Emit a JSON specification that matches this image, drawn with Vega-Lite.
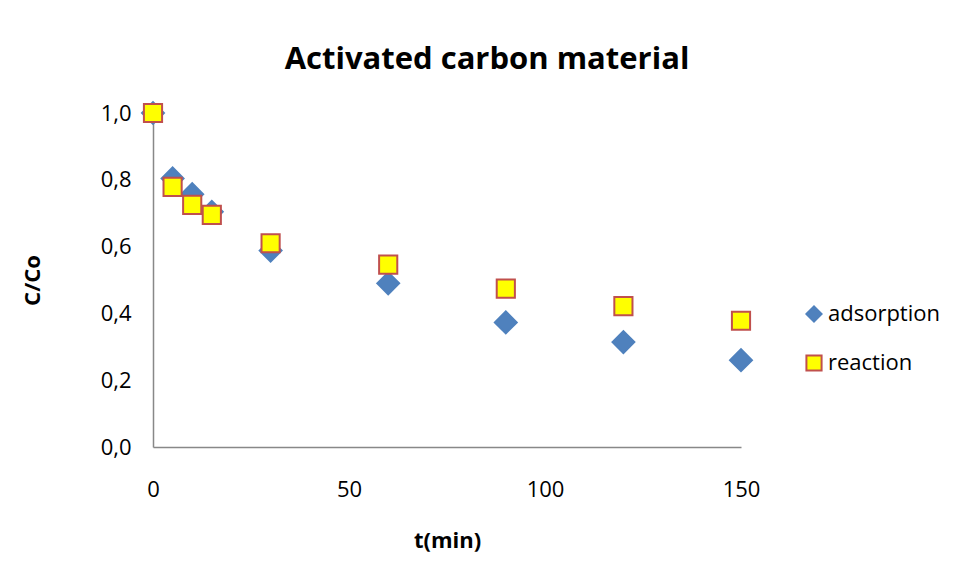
{
  "$schema": "https://vega.github.io/schema/vega-lite/v6.json",
  "width": 588,
  "height": 334,
  "autosize": "none",
  "padding": {"left": 153, "top": 113, "right": 217, "bottom": 136},
  "background": "white",
  "title": {
    "text": "Activated carbon material",
    "font": "Open Sans",
    "fontSize": 31,
    "fontWeight": "bold",
    "color": "#000000",
    "anchor": "middle",
    "offset": 22,
    "dx": 40
  },
  "data": {
    "values": [
      {"t": 0, "c": 1.0, "series": "adsorption"},
      {"t": 5, "c": 0.804, "series": "adsorption"},
      {"t": 10, "c": 0.757, "series": "adsorption"},
      {"t": 15, "c": 0.704, "series": "adsorption"},
      {"t": 30, "c": 0.588, "series": "adsorption"},
      {"t": 60, "c": 0.49, "series": "adsorption"},
      {"t": 90, "c": 0.373, "series": "adsorption"},
      {"t": 120, "c": 0.314, "series": "adsorption"},
      {"t": 150, "c": 0.26, "series": "adsorption"},
      {"t": 0, "c": 1.0, "series": "reaction"},
      {"t": 5, "c": 0.779, "series": "reaction"},
      {"t": 10, "c": 0.725, "series": "reaction"},
      {"t": 15, "c": 0.695, "series": "reaction"},
      {"t": 30, "c": 0.61, "series": "reaction"},
      {"t": 60, "c": 0.546, "series": "reaction"},
      {"t": 90, "c": 0.474, "series": "reaction"},
      {"t": 120, "c": 0.422, "series": "reaction"},
      {"t": 150, "c": 0.378, "series": "reaction"}
    ]
  },
  "mark": {"type": "point", "filled": true, "opacity": 1, "strokeWidth": 2, "clip": false},
  "encoding": {
    "x": {
      "field": "t",
      "type": "quantitative",
      "scale": {"domain": [0, 150], "nice": false, "zero": false},
      "axis": {
        "title": "t(min)",
        "values": [0, 50, 100, 150],
        "grid": false,
        "ticks": false,
        "labelFlush": false,
        "labelPadding": 32,
        "titlePadding": 30
      }
    },
    "y": {
      "field": "c",
      "type": "quantitative",
      "scale": {"domain": [0, 1], "nice": false},
      "axis": {
        "title": "C/Co",
        "values": [0, 0.2, 0.4, 0.6, 0.8, 1.0],
        "labelExpr": "replace(format(datum.value, '.1f'), '.', ',')",
        "labelFlush": false,
        "grid": false,
        "ticks": false,
        "labelPadding": 22,
        "titlePadding": 56
      }
    },
    "shape": {
      "field": "series",
      "type": "nominal",
      "scale": {"domain": ["adsorption", "reaction"], "range": ["diamond", "square"]},
      "legend": {
        "title": null,
        "orient": "none",
        "legendX": 650,
        "legendY": 190,
        "symbolSize": 230,
        "symbolStrokeWidth": 2,
        "labelFontSize": 22,
        "labelFont": "Open Sans",
        "labelColor": "#000000",
        "labelOffset": 3,
        "rowPadding": 25,
        "padding": 0
      }
    },
    "fill": {
      "field": "series",
      "type": "nominal",
      "scale": {"domain": ["adsorption", "reaction"], "range": ["#4F81BD", "#FFFF00"]}
    },
    "stroke": {
      "field": "series",
      "type": "nominal",
      "scale": {"domain": ["adsorption", "reaction"], "range": ["#4F81BD", "#C0504D"]}
    },
    "size": {
      "condition": {"test": "datum.series === 'adsorption'", "value": 480},
      "value": 330
    }
  },
  "config": {
    "view": {"stroke": null},
    "axis": {
      "domainColor": "#888888",
      "domainWidth": 1.5,
      "labelFont": "Open Sans",
      "labelFontSize": 22,
      "labelColor": "#000000",
      "titleFont": "Open Sans",
      "titleFontSize": 22,
      "titleFontWeight": "bold",
      "titleColor": "#000000"
    }
  }
}
